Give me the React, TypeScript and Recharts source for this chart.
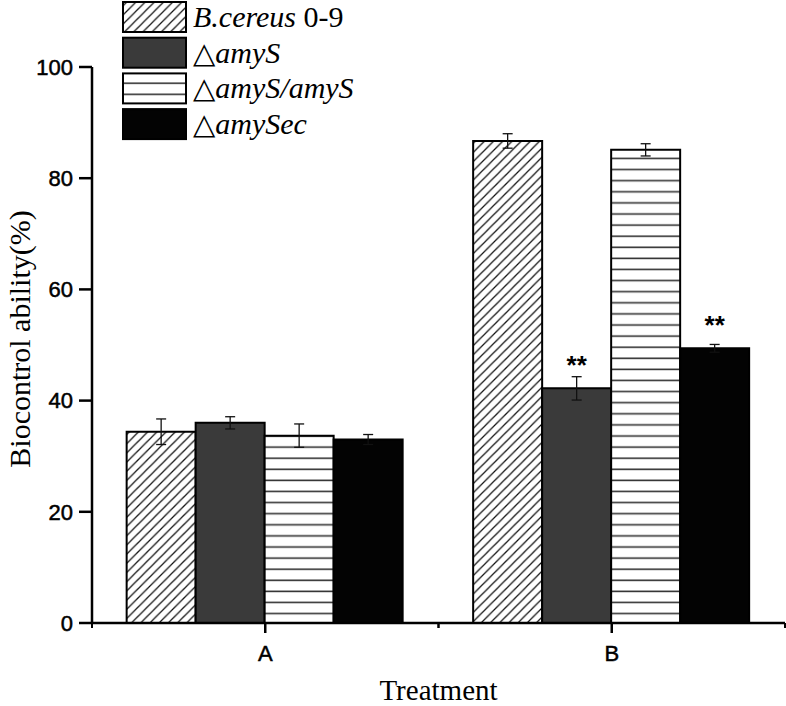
import { BarChart, Bar, XAxis, YAxis, ErrorBar, LabelList } from "recharts";

const treatments = ["A", "B"];
const seriesNames = ["B.cereus 0-9", "△amyS", "△amyS/amyS", "△amySec"];
const cereusMeans = [34.4, 86.7];
const cereusErrors = [2.3, 1.3];
const amySMeans = [36.0, 42.2];
const amySErrors = [1.1, 2.1];
const complementMeans = [33.7, 85.1];
const complementErrors = [2.1, 1.1];
const amySecMeans = [33.0, 49.4];
const amySecErrors = [0.9, 0.7];
const amySMarks = ["", "**"];
const amySecMarks = ["", "**"];
const yTicks = [0, 20, 40, 60, 80, 100];

const data = treatments.map((t, i) => ({
  treatment: t,
  cereus: cereusMeans[i],
  cereusErr: cereusErrors[i],
  amyS: amySMeans[i],
  amySErr: amySErrors[i],
  amySMark: amySMarks[i],
  complement: complementMeans[i],
  complementErr: complementErrors[i],
  amySec: amySecMeans[i],
  amySecErr: amySecErrors[i],
  amySecMark: amySecMarks[i],
}));

const SANS = "'Liberation Sans', Arial, sans-serif";
const SERIF = "'Liberation Serif', 'Times New Roman', serif";

const fills = ["url(#diag)", "#3a3a3a", "url(#hlines)", "#030303"];
const legendFills = ["url(#legDiag)", "#3a3a3a", "url(#legH)", "#030303"];

function Patterns({ diagId, hId, hOffset }: { diagId: string; hId: string; hOffset: number }) {
  return (
    <defs>
      <pattern id={diagId} patternUnits="userSpaceOnUse" width="9.2" height="9.2">
        <rect width="9.2" height="9.2" fill="#fff" />
        <path
          d="M-2.3,2.3 L2.3,-2.3 M0,9.2 L9.2,0 M6.9,11.5 L11.5,6.9"
          stroke="#111"
          strokeWidth="1.3"
        />
      </pattern>
      <pattern id={hId} patternUnits="userSpaceOnUse" width="10" height="11.1">
        <rect width="10" height="11.1" fill="#fff" />
        <line x1="0" x2="10" y1={hOffset} y2={hOffset} stroke="#333" strokeWidth="1.6" />
      </pattern>
    </defs>
  );
}

function XTick(props: any) {
  const { x, y, payload } = props;
  const base = y - 22;
  const half = payload?.offset ?? 0;
  return (
    <g>
      {half > 0 && (
        <>
          <line x1={x - half} x2={x - half} y1={base} y2={base + 5} stroke="#000" strokeWidth={2} />
          <line x1={x + half} x2={x + half} y1={base} y2={base + 5} stroke="#000" strokeWidth={2} />
        </>
      )}
      <text
        x={x}
        y={y}
        dy="0.71em"
        textAnchor="middle"
        fontSize={22}
        fontFamily={SANS}
        fill="#000"
        stroke="#000"
        strokeWidth={0.5}
      >
        {payload.value}
      </text>
    </g>
  );
}

function renderYLabel(props: any) {
  const vb = props.viewBox;
  const cx = vb.x + 19;
  const cy = vb.y + vb.height / 2 - 6;
  return (
    <text
      x={cx}
      y={cy}
      transform={`rotate(-90 ${cx} ${cy})`}
      textAnchor="middle"
      dominantBaseline="central"
      fontSize={30}
      fontFamily={SERIF}
      fill="#000"
    >
      Biocontrol ability(%)
    </text>
  );
}

function renderXLabel(props: any) {
  const vb = props.viewBox;
  return (
    <text
      x={vb.x + vb.width / 2}
      y={vb.y + vb.height - 6}
      textAnchor="middle"
      fontSize={29}
      fontFamily={SERIF}
      fill="#000"
    >
      Treatment
    </text>
  );
}

function renderMark(props: any) {
  const { x, y, width, value } = props;
  if (!value) return null;
  return (
    <text
      x={Number(x) + Number(width) / 2}
      y={Number(y) - 14}
      textAnchor="middle"
      fontSize={26}
      fontWeight="bold"
      fontFamily={SANS}
      fill="#000"
    >
      {value}
    </text>
  );
}

function LegendLabel({ name }: { name: string }) {
  const tri = name.startsWith("△");
  const rest = tri ? name.slice(1) : name;
  const sp = rest.indexOf(" ");
  const italic = sp >= 0 ? rest.slice(0, sp) : rest;
  const plain = sp >= 0 ? rest.slice(sp) : "";
  return (
    <>
      {tri && (
        <tspan fontFamily="'DejaVu Sans', sans-serif" fontSize={29}>
          △
        </tspan>
      )}
      <tspan fontStyle="italic">{italic}</tspan>
      {plain && <tspan xmlSpace="preserve">{plain}</tspan>}
    </>
  );
}

function Legend() {
  return (
    <svg
      width={400}
      height={145}
      style={{ position: "absolute", left: 0, top: 0, pointerEvents: "none" }}
    >
      <Patterns diagId="legDiag" hId="legH" hOffset={5.6} />
      {seriesNames.map((name, i) => {
        const top = 1 + i * 35.7;
        return (
          <g key={name}>
            <rect
              x={123}
              y={top + 1}
              width={63}
              height={30}
              fill={legendFills[i]}
              stroke="#000"
              strokeWidth={2}
            />
            <text x={193} y={top + 26} fontSize={30} fontFamily={SERIF} fill="#000">
              <LegendLabel name={name} />
            </text>
          </g>
        );
      })}
    </svg>
  );
}

export default function App() {
  return (
    <div
      style={{
        position: "absolute",
        left: 0,
        top: 0,
        width: 786,
        height: 706,
        background: "#fff",
      }}
    >
      <BarChart
        width={786}
        height={706}
        data={data}
        margin={{ top: 67, right: 1, left: 0, bottom: 0 }}
        barCategoryGap="10%"
        barGap={0}
      >
        <Patterns diagId="diag" hId="hlines" hOffset={3.1} />
        <XAxis
          dataKey="treatment"
          height={83}
          tickSize={10}
          tickMargin={12}
          axisLine={{ stroke: "#000", strokeWidth: 2.5 }}
          tickLine={{ stroke: "#000", strokeWidth: 2.5 }}
          tick={<XTick />}
          label={renderXLabel}
        />
        <YAxis
          width={92}
          domain={[0, 100]}
          ticks={yTicks}
          tickSize={13}
          tickMargin={6}
          axisLine={{ stroke: "#000", strokeWidth: 2.5 }}
          tickLine={{ stroke: "#000", strokeWidth: 2.5 }}
          tick={{ fontSize: 22, fontFamily: SANS, fill: "#000", stroke: "#000", strokeWidth: 0.5 }}
          label={renderYLabel}
        />
        <Bar dataKey="cereus" fill={fills[0]} stroke="#000" strokeWidth={2} isAnimationActive={false}>
          <ErrorBar dataKey="cereusErr" width={5} stroke="#111" strokeWidth={1.3} />
        </Bar>
        <Bar dataKey="amyS" fill={fills[1]} stroke="#000" strokeWidth={2} isAnimationActive={false}>
          <ErrorBar dataKey="amySErr" width={5} stroke="#111" strokeWidth={1.3} />
          <LabelList dataKey="amySMark" content={renderMark} />
        </Bar>
        <Bar dataKey="complement" fill={fills[2]} stroke="#000" strokeWidth={2} isAnimationActive={false}>
          <ErrorBar dataKey="complementErr" width={5} stroke="#111" strokeWidth={1.3} />
        </Bar>
        <Bar dataKey="amySec" fill={fills[3]} stroke="#000" strokeWidth={2} isAnimationActive={false}>
          <ErrorBar dataKey="amySecErr" width={5} stroke="#111" strokeWidth={1.3} />
          <LabelList dataKey="amySecMark" content={renderMark} />
        </Bar>
      </BarChart>
      <Legend />
    </div>
  );
}
